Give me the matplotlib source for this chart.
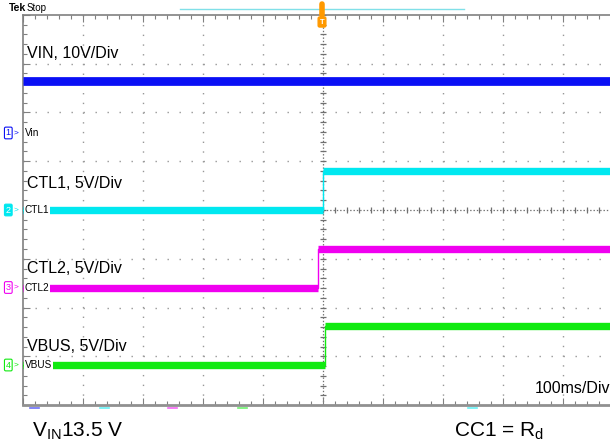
import matplotlib
matplotlib.use("Agg")
import matplotlib.pyplot as plt
from matplotlib.ticker import MultipleLocator
from matplotlib.lines import Line2D

plt.rcParams['font.family'] = ['Liberation Sans', 'DejaVu Sans']
plt.rcParams['lines.scale_dashes'] = False

# time axis in ms (100 ms/div), vertical axis in screen divisions
t_span = [-500, 500]

# channel names, colours, marker levels (div) and traces (time of step, low level, high level)
ch_names = ['Vin', 'CTL1', 'CTL2', 'VBUS']
ch_colors = ['#0A10F5', '#00E8F0', '#F000F0', '#10EA10']
ch_marker = [1.58, 0.0, -1.59, -3.18]
step_t = [None, 0.0, -8.0, 3.0]
low_lvl = [2.64, 0.0, -1.59, -3.18]
high_lvl = [2.64, 0.79, -0.81, -2.38]

scale_labels = ['VIN, 10V/Div', 'CTL1, 5V/Div', 'CTL2, 5V/Div', 'VBUS, 5V/Div']
scale_label_y = [3.2, 0.55, -1.2, -2.8]

W, H = 610, 448
fig = plt.figure(figsize=(W / 100, H / 100), dpi=100)
# graticule: left 23px, top 15px, 60px per div, 48.75px per div, extends past right edge
ax = fig.add_axes([23 / W, 43 / H, 600 / W, 390 / H])
ax.set_xlim(*t_span)
ax.set_ylim(-4, 4)

grid_c = '#989898'
for x in range(-400, 500, 100):
    if x == 0:
        continue
    ax.plot([x, x], [-4, 4], color=grid_c, lw=1.0, ls=(0, (1.0, 6.0)), zorder=1)
for y in range(-3, 4):
    if y == 0:
        continue
    ax.plot(t_span, [y, y], color=grid_c, lw=1.0, ls=(0, (1.0, 7.64)), zorder=1)

# centre cross with minor ticks
ax.plot([0, 0], [-4, 4], color='#707070', lw=0.9, ls=(0, (1.0, 1.4)), zorder=1)
ax.plot(t_span, [0, 0], color='#707070', lw=0.9, ls=(0, (1.0, 1.4)), zorder=1)
mx = [v * 20 for v in range(-25, 26)]
my = [v * 0.2 for v in range(-20, 21)]
ax.plot(mx, [0] * len(mx), ls='none', marker='|', ms=5, mew=0.9, color='#707070', zorder=1)
ax.plot([0] * len(my), my, ls='none', marker='_', ms=5, mew=0.9, color='#707070', zorder=1)

# traces
for i in range(4):
    c = ch_colors[i]
    if step_t[i] is None:
        ax.plot(t_span, [low_lvl[i], low_lvl[i]], color=c, lw=6.3, solid_capstyle='butt', zorder=3)
        continue
    ts = step_t[i]
    ax.plot([t_span[0], ts, ts, t_span[1]], [low_lvl[i], low_lvl[i], high_lvl[i], high_lvl[i]],
            color=c, lw=1.0, zorder=3)
    ax.plot([t_span[0], ts], [low_lvl[i], low_lvl[i]], color=c, lw=5.3, solid_capstyle='butt', zorder=3)
    ax.plot([ts, t_span[1]], [high_lvl[i], high_lvl[i]], color=c, lw=5.3, solid_capstyle='butt', zorder=3)

# frame
ax.spines['right'].set_visible(False)
for s in ['left', 'top']:
    ax.spines[s].set_color('#808080')
    ax.spines[s].set_linewidth(1.2)
ax.spines['bottom'].set_color('#909090')
ax.spines['bottom'].set_linewidth(2.0)
ax.xaxis.set_major_locator(MultipleLocator(100))
ax.xaxis.set_minor_locator(MultipleLocator(20))
ax.yaxis.set_major_locator(MultipleLocator(1))
ax.yaxis.set_minor_locator(MultipleLocator(0.2))
ax.tick_params(which='both', direction='in', top=True, bottom=True, left=True, right=False,
               labelbottom=False, labelleft=False, color='#808080')
ax.tick_params(which='major', length=5, width=0.8)
ax.tick_params(which='minor', length=3, width=0.8)

# channel markers on the left
ytr = ax.get_yaxis_transform()
for i in range(4):
    c = ch_colors[i]
    face = c if i == 1 else 'white'
    tc = 'white' if i == 1 else c
    ax.text(-0.0245, ch_marker[i], str(i + 1), transform=ytr, fontsize=6.5, color=tc,
            ha='center', va='center', clip_on=False, zorder=6,
            bbox=dict(boxstyle='round,pad=0.15', fc=face, ec=c, lw=0.8))
    ax.text(-0.011, ch_marker[i], '>', transform=ytr, fontsize=6, color=c,
            ha='center', va='center', clip_on=False, zorder=6)
    ax.text(0.003, ch_marker[i], ch_names[i], transform=ytr, fontsize=7.2, color='black',
            ha='left', va='center', clip_on=False, zorder=5,
            bbox=dict(boxstyle='square,pad=0.1', fc='white', ec='none'))

# scale labels
for i in range(4):
    ax.text(0.006, scale_label_y[i], scale_labels[i], transform=ytr, fontsize=11.5,
            color='black', ha='left', va='center', zorder=5)

fig.text(535 / W, 1 - 388 / H, '100ms/Div', fontsize=11.5, ha='left', va='center')

# header
fig.text(9 / W, 1 - 8 / H, 'Tek', fontsize=7.5, fontweight='bold', ha='left', va='center')
fig.text(27 / W, 1 - 8 / H, 'Stop', fontsize=7, ha='left', va='center')
fig.add_artist(Line2D([180 / W, 464 / W], [1 - 9 / H, 1 - 9 / H], color='#80E0E8', lw=1.0))
# trigger marker
fig.add_artist(Line2D([322 / W, 322 / W], [1 - 4 / H, 1 - 15 / H], color='#FF9900', lw=4,
                      solid_capstyle='round'))
fig.text(322 / W, 1 - 22 / H, 'T', fontsize=5.5, color='white', fontweight='bold',
         ha='center', va='center',
         bbox=dict(boxstyle='round,pad=0.2', fc='#FF9900', ec='#FF9900'))

# small channel flags under the graticule
for xs, c in zip([30, 100, 168, 238, 468], ch_colors + [ch_colors[1]]):
    fig.add_artist(Line2D([xs / W, (xs + 9) / W], [1 - 407.5 / H, 1 - 407.5 / H], color=c,
                          lw=1.2, alpha=0.6))

# annotations below
fig.text(32 / W, 1 - 431 / H, r'V$_{\mathregular{IN}}$13.5 V', fontsize=15, ha='left', va='center')
fig.text(454 / W, 1 - 431 / H, r'CC1 = R$_{\mathregular{d}}$', fontsize=15, ha='left', va='center')

fig.savefig('out.png', dpi=100)
